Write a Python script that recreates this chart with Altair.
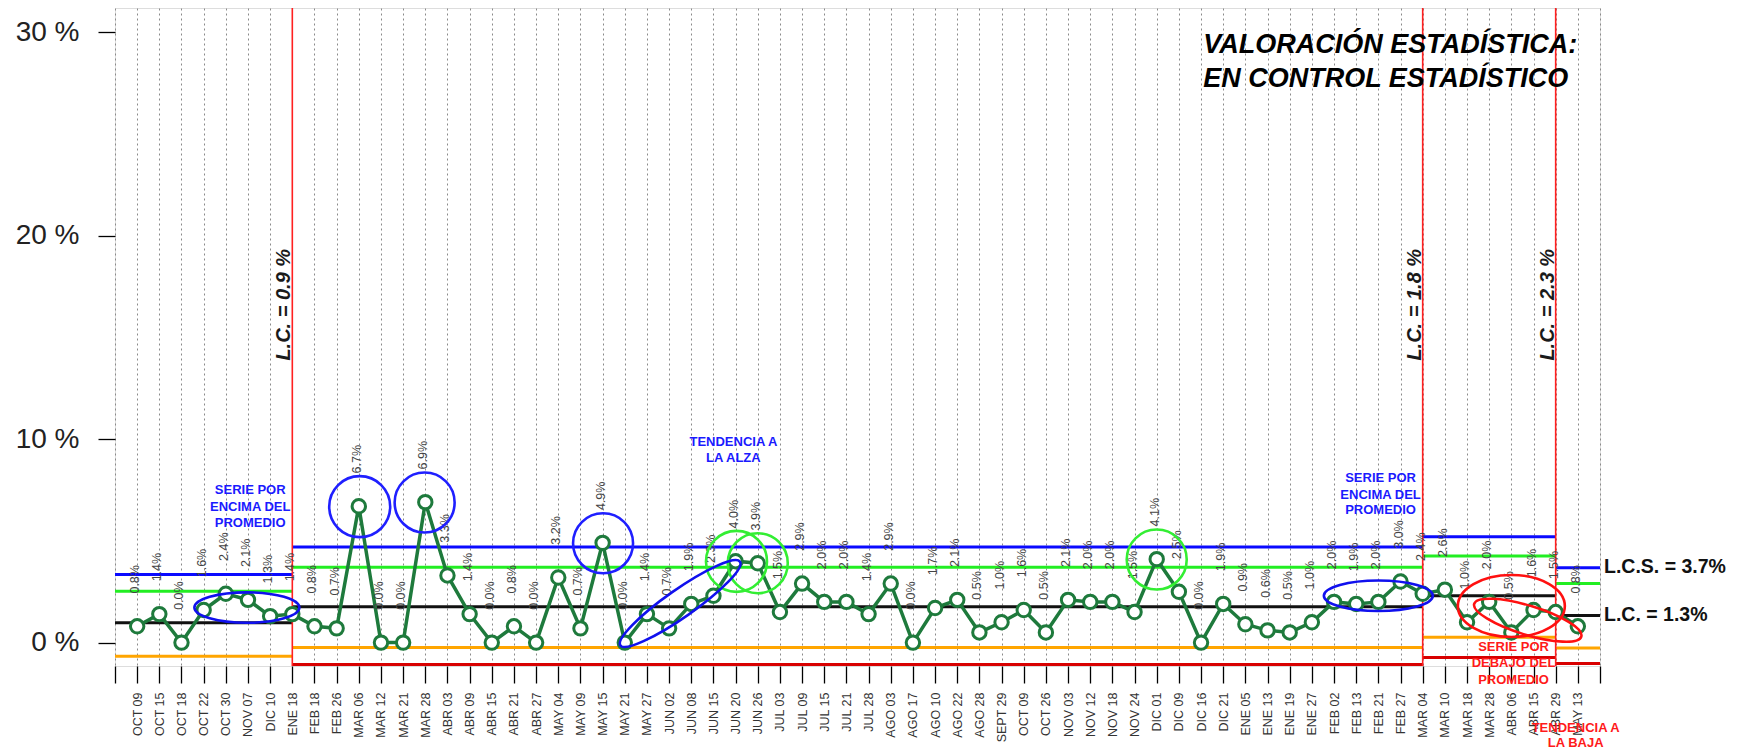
import json
import altair as alt
import pandas as pd

# ---------------- data ----------------
dates = ["OCT 09", "OCT 15", "OCT 18", "OCT 22", "OCT 30", "NOV 07", "DIC 10", "ENE 18",
         "FEB 18", "FEB 26", "MAR 06", "MAR 12", "MAR 21", "MAR 28", "ABR 03", "ABR 09",
         "ABR 15", "ABR 21", "ABR 27", "MAY 04", "MAY 09", "MAY 15", "MAY 21", "MAY 27",
         "JUN 02", "JUN 08", "JUN 15", "JUN 20", "JUN 26", "JUL 03", "JUL 09", "JUL 15",
         "JUL 21", "JUL 28", "AGO 03", "AGO 17", "AGO 10", "AGO 22", "AGO 28", "SEPT 29",
         "OCT 09", "OCT 26", "NOV 03", "NOV 12", "NOV 18", "NOV 24", "DIC 01", "DIC 09",
         "DIC 16", "DIC 21", "ENE 05", "ENE 13", "ENE 19", "ENE 27", "FEB 02", "FEB 13",
         "FEB 21", "FEB 27", "MAR 04", "MAR 10", "MAR 18", "MAR 28", "ABR 06", "ABR 15",
         "ABR 29", "MAY 13"]
values = [0.8, 1.4, 0.0, 1.6, 2.4, 2.1, 1.3, 1.4,
          0.8, 0.7, 6.7, 0.0, 0.0, 6.9, 3.3, 1.4,
          0.0, 0.8, 0.0, 3.2, 0.7, 4.9, 0.0, 1.4,
          0.7, 1.9, 2.3, 4.0, 3.9, 1.5, 2.9, 2.0,
          2.0, 1.4, 2.9, 0.0, 1.7, 2.1, 0.5, 1.0,
          1.6, 0.5, 2.1, 2.0, 2.0, 1.5, 4.1, 2.5,
          0.0, 1.9, 0.9, 0.6, 0.5, 1.0, 2.0, 1.9,
          2.0, 3.0, 2.4, 2.6, 1.0, 2.0, 0.5, 1.6,
          1.5, 0.8]
assert len(dates) == len(values)

# control-limit segments (start index, end index)
seg_start = [0, 8, 59, 65]
seg_end = [8, 59, 65, 67]
ucl = [3.35, 4.70, 5.20, 3.68]      # blue
upper2 = [2.52, 3.70, 4.25, 2.90]   # green
center = [0.97, 1.76, 2.30, 1.33]   # black
lcl = [-0.67, -0.24, 0.26, -0.27]   # orange
low_red_start = [8, 59, 65]
low_red_end = [59, 65, 67]
low_red = [-1.08, -0.73, -1.03]
phase_breaks = [8, 59, 65]
phase_labels = ["L.C. = 0.9 %", "L.C. = 1.8 %", "L.C. = 2.3 %"]
phase_y = [16.6, 16.6, 16.6]

# annotation shapes: x index, y value, width px, aspect, angle, colour
ann_x = [11.04, 13.97, 22.02, 28.04, 29.0, 47.0, 5.95, 25.5, 57.0, 63.0, 63.74]
ann_y = [6.68, 6.88, 4.88, 3.99, 3.90, 4.08, 1.72, 1.92, 2.30, 1.80, 1.10]
ann_w = [61, 60, 60, 61, 60, 60, 105, 146, 109, 107, 112]
ann_r = [1, 1, 1, 1, 1, 1, 0.29, 0.19, 0.28, 0.58, 0.26]
ann_angle = [0, 0, 0, 0, 0, 0, 0, 325, 0, 0, 17]
ann_color = ["#1f1fff", "#1f1fff", "#1f1fff", "#33ee33", "#33ee33", "#33ee33",
             "#1010ee", "#1010ee", "#1010ee", "#ff1010", "#ff1010"]

# annotation texts
note_text = ["SERIE POR", "ENCIMA DEL", "PROMEDIO",
             "TENDENCIA A", "LA ALZA",
             "SERIE POR", "ENCIMA DEL", "PROMEDIO",
             "SERIE POR", "DEBAJO DEL", "PROMEDIO",
             "TENDENCIA A", "LA BAJA"]
note_x = [6.1, 6.1, 6.1, 27.9, 27.9, 57.1, 57.1, 57.1, 63.1, 63.1, 63.1, 65.9, 65.9]
note_y = [7.48, 6.66, 5.86, 9.85, 9.09, 8.09, 7.27, 6.50, -0.21, -1.02, -1.84, -4.22, -4.94]
note_color = ["#1a1aff"] * 8 + ["#ff1a1a"] * 5

title_lines = ["VALORACIÓN ESTADÍSTICA:", "EN CONTROL ESTADÍSTICO"]
title_x = [49.1, 49.1]
title_y = [29.34, 27.70]

right_labels = ["L.C.S. =  3.7%", "L.C. =  1.3%"]
right_y = [3.72, 1.35]

x_domain = [0, 67]
y_domain = [-1.15, 31.18]
y_ticks = [0, 10, 20, 30]

# ---------------- helpers ----------------
def ellipse_path(r):
    k = 0.5523
    return (f"M1,0C1,{k*r:.4f} {k:.4f},{r:.4f} 0,{r:.4f}"
            f"C{-k:.4f},{r:.4f} -1,{k*r:.4f} -1,0"
            f"C-1,{-k*r:.4f} {-k:.4f},{-r:.4f} 0,{-r:.4f}"
            f"C{k:.4f},{-r:.4f} 1,{-k*r:.4f} 1,0Z")

FONT = "Liberation Sans"
xs = alt.Scale(domain=x_domain, nice=False, zero=False)
ys = alt.Scale(domain=y_domain, nice=False, zero=False)

label_array = json.dumps([""] + dates + [""])

x_axis = alt.Axis(values=list(range(0, 68)), labelExpr=f"{label_array}[datum.value]",
                  labelAngle=270, labelFontSize=12.5, labelColor="#333", labelPadding=9,
                  tickSize=17, tickWidth=1.3, tickColor="black", domain=False,
                  grid=True, gridDash=[2, 3], gridColor="#8a8a8a", gridWidth=1,
                  title=None, labelOverlap=False, labelFont=FONT, labelBound=False,
                  labelFlush=False)
y_axis = alt.Axis(values=y_ticks, labelExpr="datum.value + ' %'", labelFontSize=28,
                  labelColor="#222", labelPadding=19, tickSize=17, tickWidth=1.3,
                  tickColor="black", domain=False, grid=False, title=None, labelFont=FONT,
                  labelOverlap=False)


def X(field):
    return alt.X(field, scale=xs, axis=x_axis)


def Y(field):
    return alt.Y(field, scale=ys, axis=y_axis)


df = pd.DataFrame({"idx": list(range(1, len(values) + 1)), "value": values,
                   "label": [f"{v:.1f}%" for v in values]})

line = alt.Chart(df).mark_line(color="#1e7a3c", strokeWidth=3.5).encode(
    x=X("idx:Q"), y=Y("value:Q"))

points = alt.Chart(df).mark_point(filled=False, fill="white", fillOpacity=1,
                                  color="#1e7a3c", strokeWidth=3, size=180, opacity=1).encode(
    x=X("idx:Q"), y=Y("value:Q"))

value_labels = alt.Chart(df).mark_text(angle=270, align="center", baseline="middle",
                                       dx=47, dy=-2, fontSize=12.5, color="#444",
                                       font=FONT).encode(
    x=X("idx:Q"), y=Y("value:Q"), text="label:N")

# control limit segments
seg_rows = []
for vals, col in [(ucl, "#0a0aff"), (upper2, "#22ee22"), (center, "#111111"),
                  (lcl, "#ffa500")]:
    for s, e, v in zip(seg_start, seg_end, vals):
        seg_rows.append({"s": s, "e": e, "v": v, "c": col, "w": 3})
for s, e, v in zip(low_red_start, low_red_end, low_red):
    seg_rows.append({"s": s, "e": e, "v": v, "c": "#d80000", "w": 3})
seg_df = pd.DataFrame(seg_rows)

segments = alt.Chart(seg_df).mark_rule().encode(
    x=X("s:Q"), x2="e:Q", y=Y("v:Q"),
    color=alt.Color("c:N", scale=None), strokeWidth=alt.StrokeWidth("w:Q", scale=None))

vr_df = pd.DataFrame({"x": phase_breaks, "y0": [y_domain[0]] * 3, "y1": [y_domain[1]] * 3,
                      "t": phase_labels, "ty": phase_y})
vrules = alt.Chart(vr_df).mark_rule(color="#ff2020", strokeWidth=1.6).encode(
    x=X("x:Q"), y=Y("y0:Q"), y2="y1:Q")

phase_text = alt.Chart(vr_df).mark_text(angle=270, align="center", baseline="alphabetic",
                                        dy=-2, fontSize=20, fontWeight="bold",
                                        fontStyle="italic", color="#1a1a1a", font=FONT).encode(
    x=X("x:Q"), y=Y("ty:Q"), text="t:N")

ann_df = pd.DataFrame({"x": ann_x, "y": ann_y,
                       "shape": [ellipse_path(r) for r in ann_r],
                       "size": [w * w for w in ann_w], "angle": ann_angle,
                       "c": ann_color})
ann = alt.Chart(ann_df).mark_point(filled=False, strokeWidth=2.6, opacity=1).encode(
    x=X("x:Q"), y=Y("y:Q"),
    shape=alt.Shape("shape:N", scale=None), size=alt.Size("size:Q", scale=None),
    angle=alt.Angle("angle:Q", scale=None), stroke=alt.Stroke("c:N", scale=None))

notes_df = pd.DataFrame({"x": note_x, "y": note_y, "t": note_text, "c": note_color})
notes = alt.Chart(notes_df).mark_text(fontSize=13, fontWeight="bold", baseline="middle",
                                      align="center", font=FONT).encode(
    x=X("x:Q"), y=Y("y:Q"), text="t:N", color=alt.Color("c:N", scale=None))

title_df = pd.DataFrame({"x": title_x, "y": title_y, "t": title_lines})
title = alt.Chart(title_df).mark_text(fontSize=27, fontWeight="bold", fontStyle="italic",
                                      align="left", baseline="middle", color="#000",
                                      font=FONT).encode(
    x=X("x:Q"), y=Y("y:Q"), text="t:N")

right_df = pd.DataFrame({"x": [x_domain[1]] * 2, "y": right_y, "t": right_labels})
right = alt.Chart(right_df).mark_text(fontSize=19.5, fontWeight="bold", align="left",
                                      baseline="middle", dx=4, color="#111",
                                      font=FONT).encode(
    x=X("x:Q"), y=Y("y:Q"), text="t:N")

chart = alt.layer(segments, vrules, line, points, value_labels, ann, notes,
                  phase_text, title, right).properties(
    width=1485, height=658,
    autosize=alt.AutoSizeParams(type="none"),
    padding={"left": 107, "top": 0, "right": 135, "bottom": 84},
).configure_view(stroke="black", strokeWidth=1.5).configure_axis(
    labelOverlap=False).configure(font=FONT, background="white")

chart.save("out.html", embed_options={"renderer": "svg", "actions": False})
